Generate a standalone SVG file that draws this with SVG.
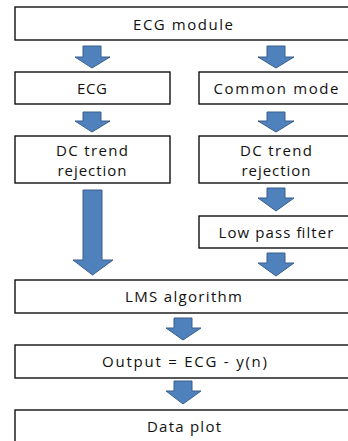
<svg xmlns="http://www.w3.org/2000/svg" width="348" height="441" viewBox="0 0 348 441">
<style>
.box{fill:#fff;stroke:#111;stroke-width:1.4}
.t{font-family:"Open Sans","Liberation Sans",sans-serif;font-size:15px;fill:#111;text-anchor:middle}
.arr{fill:#4F81BD;stroke:#3A5F8C;stroke-width:1}
</style>
<rect width="348" height="441" fill="#fff"/>
<g id="connectors">
<path class="arr" d="M83,46H101V57H110L92,68L75,57H83Z"/>
<path class="arr" d="M267,46H285V57H294L276,68L258,57H267Z"/>
<path class="arr" d="M83,112H101V121H110L92,132L75,121H83Z"/>
<path class="arr" d="M267,112H285V121H294L276,132L258,121H267Z"/>
<path class="arr" d="M83,190H102V260H113L92.5,275L73,260H83Z"/>
<path class="arr" d="M267,188H285V198H294L276,211L258,198H267Z"/>
<path class="arr" d="M267,253H285V263H294L276,276L258,263H267Z"/>
<path class="arr" d="M174,318H192V328H201L183,340L166,328H174Z"/>
<path class="arr" d="M174,381H192V391H201L183,404L166,391H174Z"/>
</g>
<g id="ecg-module"><rect class="box" x="15" y="7" width="336" height="33"/><text class="t" x="183" y="30" textLength="100" lengthAdjust="spacing">ECG module</text></g>
<g id="ecg"><rect class="box" x="15" y="72" width="155" height="32"/><text class="t" x="92" y="94" textLength="30" lengthAdjust="spacing">ECG</text></g>
<g id="common-mode"><rect class="box" x="199" y="72" width="152" height="32"/><text class="t" x="276" y="94" textLength="125" lengthAdjust="spacing">Common mode</text></g>
<g id="dc-left"><rect class="box" x="15" y="136" width="155" height="47"/><text class="t" x="92" y="156" textLength="72" lengthAdjust="spacing">DC trend</text><text class="t" x="92" y="176" textLength="69" lengthAdjust="spacing">rejection</text></g>
<g id="dc-right"><rect class="box" x="199" y="136" width="152" height="47"/><text class="t" x="276" y="156" textLength="72" lengthAdjust="spacing">DC trend</text><text class="t" x="276" y="176" textLength="69" lengthAdjust="spacing">rejection</text></g>
<g id="lpf"><rect class="box" x="199" y="216" width="152" height="32"/><text class="t" x="276" y="238" textLength="115" lengthAdjust="spacing">Low pass filter</text></g>
<g id="lms"><rect class="box" x="15" y="280" width="336" height="33"/><text class="t" x="183.5" y="302" textLength="117" lengthAdjust="spacing">LMS algorithm</text></g>
<g id="output"><rect class="box" x="15" y="345" width="336" height="33"/><text class="t" x="184.5" y="367" textLength="165" lengthAdjust="spacing">Output = ECG - y(n)</text></g>
<g id="data-plot"><rect class="box" x="15" y="410" width="336" height="40"/><text class="t" x="184" y="432" textLength="74" lengthAdjust="spacing">Data plot</text></g>
</svg>
